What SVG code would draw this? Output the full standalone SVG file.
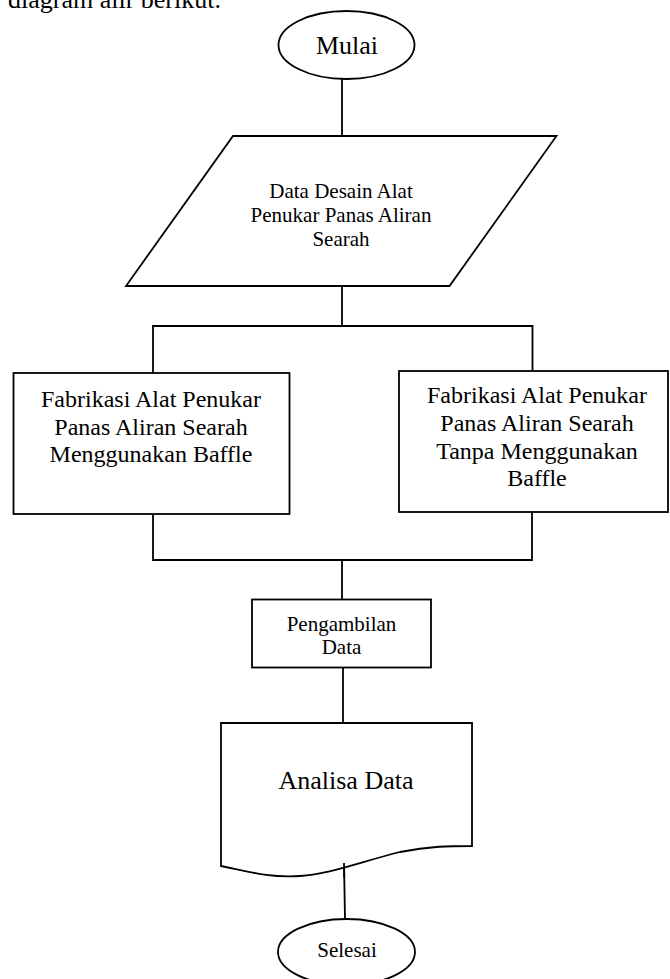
<svg xmlns="http://www.w3.org/2000/svg" width="670" height="979" viewBox="0 0 670 979">
<style>
.s{fill:#fff;stroke:#000;stroke-width:1.8}
.c{fill:none;stroke:#000;stroke-width:1.8}
text{font-family:"Liberation Serif","Times New Roman",serif;fill:#000;text-anchor:middle}
</style>
<rect width="670" height="979" fill="#fff"/>
<text x="8" y="8" font-size="26" style="text-anchor:start">diagram alir berikut.</text>
<g id="connectors">
<line class="c" x1="342" y1="79" x2="342" y2="136"/>
<line class="c" x1="342" y1="286" x2="342" y2="326"/>
<polyline class="c" points="153,373 153,326 532.5,326 532.5,371"/>
<polyline class="c" points="153,514 153,560 532,560 532,512"/>
<line class="c" x1="342" y1="560" x2="342" y2="599"/>
<line class="c" x1="343" y1="668" x2="343" y2="723"/>
<line class="c" x1="344" y1="863" x2="345" y2="919"/>
</g>
<g id="mulai">
<ellipse class="s" cx="346.5" cy="45" rx="68" ry="34"/>
<text x="347" y="54" font-size="26">Mulai</text>
</g>
<g id="data-desain">
<polygon class="s" points="233,136 556.5,136 449.5,286 126,286"/>
<text x="341" y="198" font-size="21">Data Desain Alat</text>
<text x="341" y="222" font-size="21">Penukar Panas Aliran</text>
<text x="341" y="246" font-size="21">Searah</text>
</g>
<g id="fabrikasi-baffle">
<rect class="s" x="13.5" y="373" width="276" height="141"/>
<text x="151" y="407" font-size="24">Fabrikasi Alat Penukar</text>
<text x="151" y="434.5" font-size="24">Panas Aliran Searah</text>
<text x="151" y="462" font-size="24">Menggunakan Baffle</text>
</g>
<g id="fabrikasi-tanpa-baffle">
<rect class="s" x="399" y="371" width="269" height="141"/>
<text x="537" y="403" font-size="24">Fabrikasi Alat Penukar</text>
<text x="537" y="431" font-size="24">Panas Aliran Searah</text>
<text x="537" y="458.5" font-size="24">Tanpa Menggunakan</text>
<text x="537" y="486" font-size="24">Baffle</text>
</g>
<g id="pengambilan-data">
<rect class="s" x="252" y="599.5" width="179" height="68"/>
<text x="341.5" y="631" font-size="21">Pengambilan</text>
<text x="341.5" y="653.5" font-size="21">Data</text>
</g>
<g id="analisa-data">
<path class="s" d="M221,723 H472 V846 C450,846 430,846 400,852 C360,862 330,874 300,876 C270,878 250,872 221,866 Z"/>
<text x="346" y="788.5" font-size="26">Analisa Data</text>
</g>
<g id="selesai">
<ellipse class="s" cx="346.5" cy="952" rx="68.5" ry="33"/>
<text x="347" y="957" font-size="21">Selesai</text>
</g>
<line class="c" x1="344" y1="863" x2="344.3" y2="878"/>
</svg>
